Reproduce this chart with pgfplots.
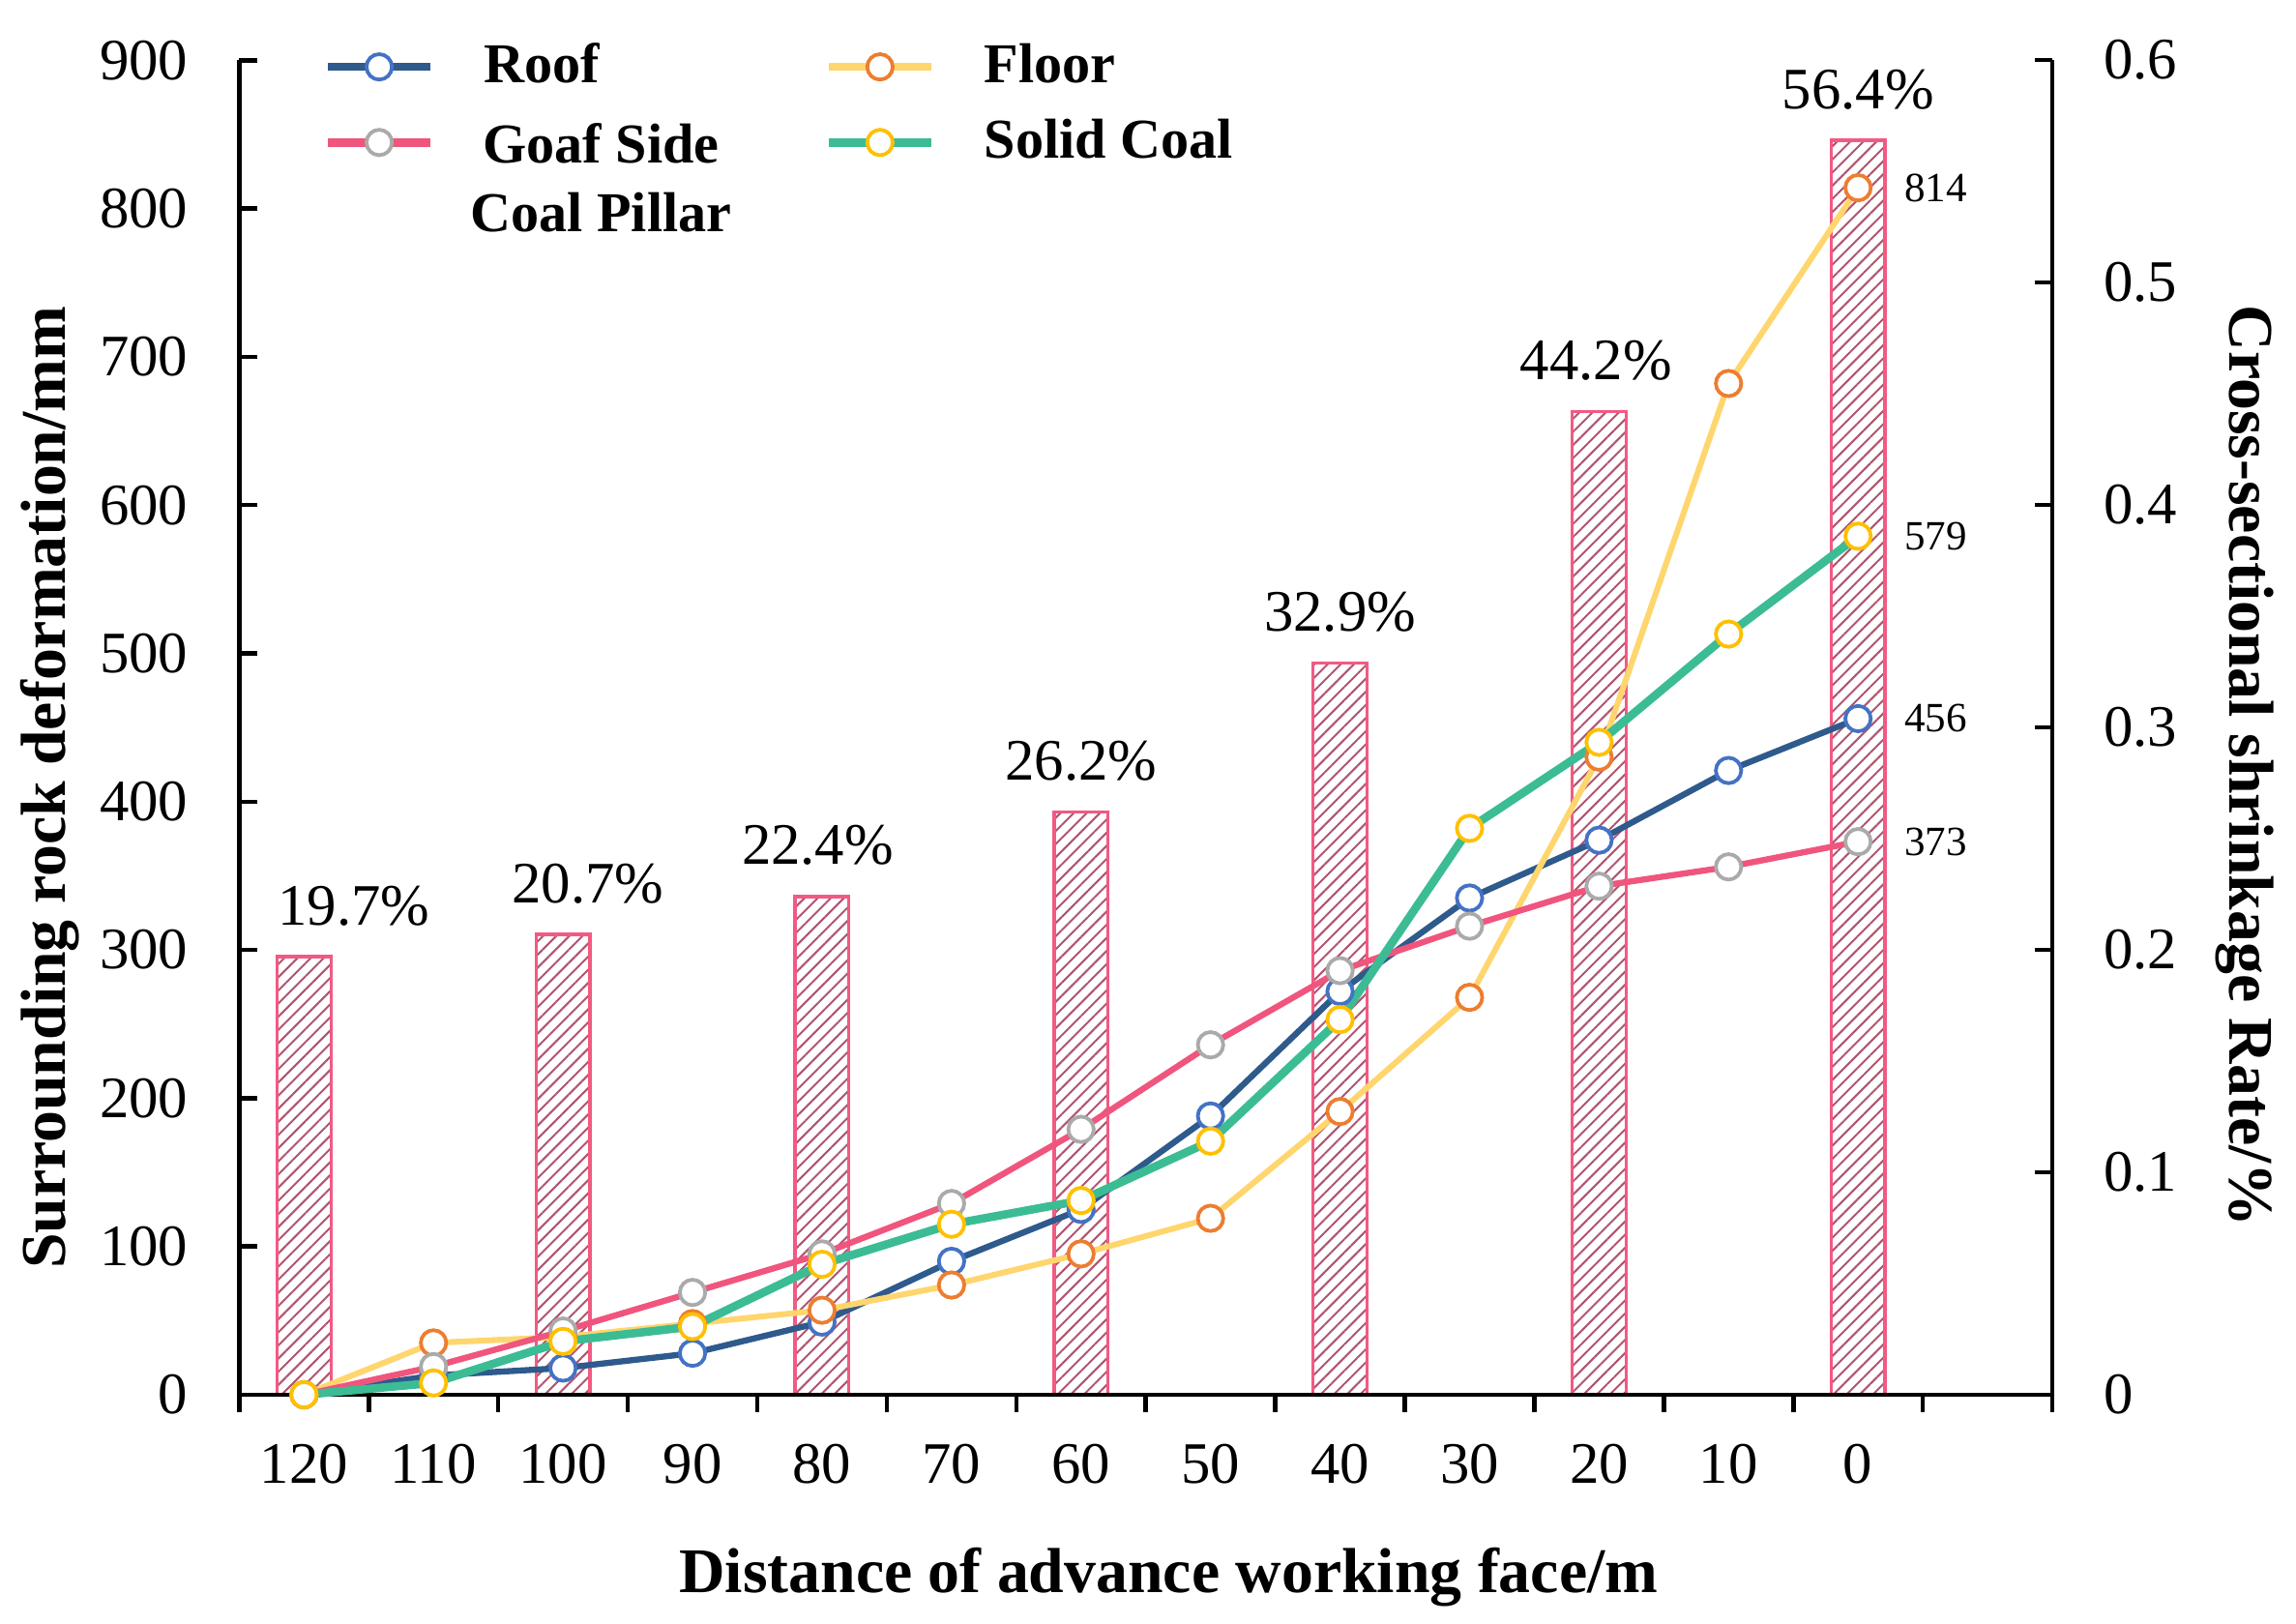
\documentclass[border=0pt]{standalone}
\usepackage{fontspec}
\setmainfont{Liberation Serif}
\usepackage{pgfplots}
\usepackage{pgfplotstable}
\pgfplotsset{compat=1.18}
\usetikzlibrary{patterns.meta}

\definecolor{roofL}{RGB}{46,90,140}
\definecolor{roofM}{RGB}{68,114,196}
\definecolor{goafL}{RGB}{240,85,125}
\definecolor{goafM}{RGB}{170,170,170}
\definecolor{floorL}{RGB}{255,214,110}
\definecolor{floorM}{RGB}{237,125,49}
\definecolor{solidL}{RGB}{60,188,148}
\definecolor{solidM}{RGB}{255,192,0}
\definecolor{barE}{RGB}{242,90,130}
\definecolor{barP}{RGB}{175,85,112}

\pgfplotstableread{
x rate lab dx
0.5 0.197 19.7 10.2
2.5 0.207 20.7 5.1
4.5 0.224 22.4 -0.9
6.5 0.262 26.2 0
8.5 0.329 32.9 0
10.5 0.442 44.2 -0.6
12.5 0.564 56.4 0
}\bars

\pgfplotsset{
  common/.style={
    scale only axis, width=370.5pt, height=272.7pt,
    xmin=0, xmax=14,
    /pgf/number format/assume math mode=true,
    axis line style={line width=0.9pt, black},
    major tick length=3.6pt,
    every tick/.style={line width=0.9pt, black},
    tick label style={font=\fontsize{12}{14}\selectfont},
  }
}

\begin{document}
\begin{tikzpicture}
% bars, right axis
\begin{axis}[common,
  ymin=0, ymax=0.6,
  axis x line=none,
  axis y line*=right,
  ytick={0,0.1,0.2,0.3,0.4,0.5,0.6},
  yticklabels={0,0.1,0.2,0.3,0.4,0.5,0.6},
  yticklabel style={xshift=7pt},
  ylabel={Cross-sectional shrinkage Rate/\%},
  every axis y label/.style={at={(axis description cs:1.106,0.471)}, rotate=-90, anchor=center, font=\bfseries\fontsize{13}{15}\selectfont},
]
\addplot[ybar, bar width=11pt, bar shift=0pt, draw=barE, line width=0.65pt,
  pattern={Lines[angle=45,distance=1.9pt,line width=0.4pt]}, pattern color=barP,
  nodes near coords={\pgfplotspointmeta\%}, point meta=explicit symbolic,
  visualization depends on={\thisrow{dx}\as\dx},
  every node near coord/.append style={font=\fontsize{12}{14}\selectfont, text=black, anchor=base, xshift=\dx pt, yshift=6.5pt}
] table[x=x, y=rate, meta=lab] {\bars};
\end{axis}

% lines, left axis
\begin{axis}[common,
  ymin=0, ymax=900, clip=false,
  axis x line*=bottom,
  axis y line*=left,
  xtick={0,1,...,14},
  xticklabels={120,110,100,90,80,70,60,50,40,30,20,10,0,,},
  xtick align=outside,
  xticklabel style={xshift=13.23pt, yshift=-3pt},
  ytick={0,100,...,900},
  yticklabel style={xshift=-7pt},
  xlabel={Distance of advance working face/m},
  ylabel={Surrounding rock deformation/mm},
  every axis x label/.style={at={(axis description cs:0.5126,-0.1485)}, anchor=base, font=\bfseries\fontsize{13}{15}\selectfont},
  every axis y label/.style={at={(axis description cs:-0.1045,0.455)}, rotate=90, anchor=center, font=\bfseries\fontsize{13}{15}\selectfont},
  legend columns=2,
  legend cell align=left,
  legend style={at={(axis description cs:0.046,1.017)}, anchor=north west, draw=none, fill=none, inner sep=0pt,
    font=\bfseries\fontsize{11.5}{14}\selectfont,
    nodes={inner sep=1pt},
    row sep=3pt,
    /tikz/every odd column/.append style={column sep=9pt},
    /tikz/every even column/.append style={column sep=18pt}},
  legend image code/.code={\draw[mark repeat=2,mark phase=2,#1,line width=1.7pt] plot coordinates {(0pt,0pt) (10.5pt,0pt) (21pt,0pt)};},
]
\addplot[color=roofL, line width=1.25pt, mark=*, mark size=2.6pt, mark options={draw=roofM, fill=white, line width=0.75pt}]
coordinates {(0.5,0) (1.5,13) (2.5,18) (3.5,28) (4.5,49) (5.5,90) (6.5,125) (7.5,188) (8.5,272) (9.5,335) (10.5,374) (11.5,421) (12.5,456)};
\addlegendentry{Roof}
\addplot[color=floorL, line width=1.2pt, mark=*, mark size=2.6pt, mark options={draw=floorM, fill=white, line width=0.75pt}]
coordinates {(0.5,0) (1.5,35) (2.5,39) (3.5,48) (4.5,57) (5.5,74) (6.5,95) (7.5,119) (8.5,191) (9.5,268) (10.5,430) (11.5,682) (12.5,814)};
\addlegendentry{Floor}
\addplot[color=goafL, line width=1.25pt, mark=*, mark size=2.6pt, mark options={draw=goafM, fill=white, line width=0.75pt}]
coordinates {(0.5,0) (1.5,19) (2.5,43) (3.5,69) (4.5,95) (5.5,129) (6.5,179) (7.5,236) (8.5,286) (9.5,316) (10.5,343) (11.5,356) (12.5,373)};
\addlegendentry{\hspace*{-2.7pt}\begin{tabular}[t]{@{}c@{}}Goaf Side\\Coal Pillar\end{tabular}}
\addplot[color=solidL, line width=1.7pt, mark=*, mark size=2.6pt, mark options={draw=solidM, fill=white, line width=0.75pt}]
coordinates {(0.5,0) (1.5,8) (2.5,36) (3.5,46) (4.5,88) (5.5,115) (6.5,131) (7.5,171) (8.5,253) (9.5,382) (10.5,440) (11.5,513) (12.5,579)};
\addlegendentry{Solid Coal}
\addplot[draw=none, forget plot, nodes near coords, point meta=explicit symbolic,
  every node near coord/.append style={anchor=west, xshift=6pt, font=\fontsize{8.5}{10}\selectfont, text=black}]
coordinates {(12.5,814)[814] (12.5,579)[579] (12.5,456)[456] (12.5,373)[373]};
\end{axis}
\pgfresetboundingbox
\useasboundingbox (-48.9pt,-46.8pt) rectangle (420.3pt,285pt);
\end{tikzpicture}
\end{document}
